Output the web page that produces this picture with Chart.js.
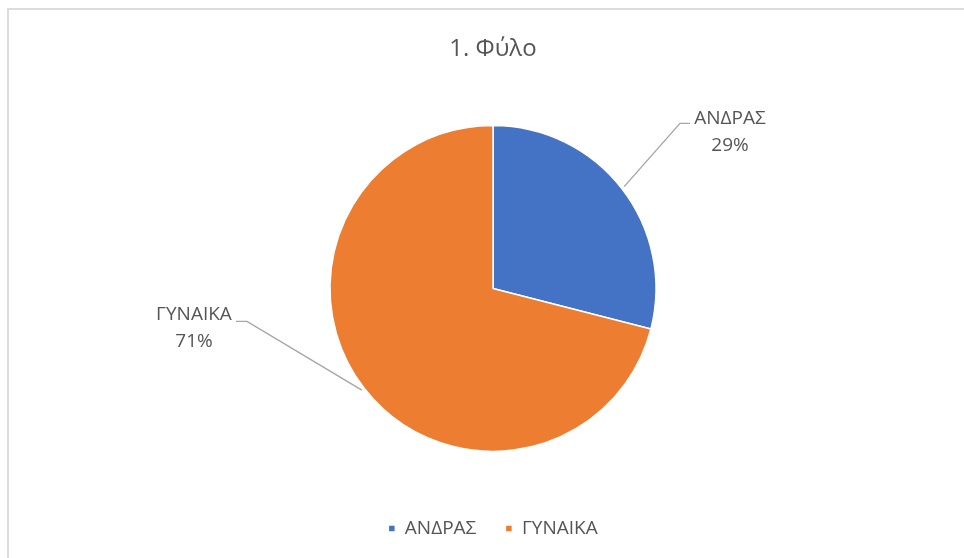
<!DOCTYPE html>
<html lang="el">
<head>
<meta charset="utf-8">
<title>1. Φύλο</title>
<script src="https://cdn.jsdelivr.net/npm/chart.js@4/dist/chart.umd.min.js"></script>
<style>
    html, body {
        margin: 0;
        padding: 0;
        background: #ffffff;
        overflow: hidden;
    }
    #frame {
        position: absolute;
        left: 7px;
        top: 8px;
        width: 1000px;
        height: 600px;
        border: 2px solid #dcdcdc;
        box-sizing: border-box;
    }
    #wrap {
        position: absolute;
        left: 0;
        top: 0;
        width: 964px;
        height: 558px;
    }
</style>
</head>
<body>
<div id="frame"></div>
<div id="wrap"><canvas id="pieChart"></canvas></div>
<script>
"use strict"

// Data för diagrammet
const chartTitle = "1. Φύλο";
const categories = ["ΑΝΔΡΑΣ", "ΓΥΝΑΙΚΑ"];
const values = [29, 71];
const colors = ["#4472c4", "#ed7d31"];

const textColor = "#555555";
const fontFamily = "'Open Sans', 'Noto Sans', sans-serif";

// Plugin som ritar etiketter med ledarlinjer utanför tårtbitarna
const leaderLabels = {
    id: "leaderLabels",
    afterDatasetsDraw(chart, args, opts) {
        const ctx = chart.ctx;
        const meta = chart.getDatasetMeta(0);
        const data = chart.data.datasets[0].data;
        const total = data.reduce((a, b) => a + b, 0);

        meta.data.forEach((arc, i) => {
            const spot = opts.spots[i];
            const mid = (arc.startAngle + arc.endAngle) / 2;
            const r = arc.outerRadius + 3;
            const x0 = arc.x + Math.cos(mid) * r;
            const y0 = arc.y + Math.sin(mid) * r;
            const ex = arc.x + spot.elbow[0];
            const ey = arc.y + spot.elbow[1];
            const hx = ex + spot.tail;

            ctx.save();
            ctx.strokeStyle = "#a6a6a6";
            ctx.lineWidth = 1.4;
            ctx.beginPath();
            ctx.moveTo(x0, y0);
            ctx.lineTo(ex, ey);
            ctx.lineTo(hx, ey);
            ctx.stroke();

            const pct = Math.round(data[i] / total * 100) + "%";
            ctx.fillStyle = textColor;
            ctx.font = "19px " + fontFamily;
            ctx.textAlign = "center";
            ctx.textBaseline = "middle";
            const tx = arc.x + spot.text[0];
            const ty = arc.y + spot.text[1];
            ctx.fillText(chart.data.labels[i], tx, ty);
            ctx.fillText(pct, tx, ty + 27);
            ctx.restore();
        });
    }
};

new Chart(
    document.getElementById("pieChart"),
    {
        type: "pie",
        data: {
            labels: categories,
            datasets: [
                {
                    data: values,
                    backgroundColor: colors,
                    borderColor: "#ffffff",
                    borderWidth: 1.5,
                    radius: 163
                }
            ]
        },
        options: {
            responsive: true,
            maintainAspectRatio: false,
            animation: false,
            events: [],
            layout: {
                padding: { left: 22, right: 0, top: 0, bottom: 10 }
            },
            plugins: {
                title: {
                    display: true,
                    text: chartTitle,
                    color: textColor,
                    font: { family: fontFamily, size: 24, weight: "normal" },
                    padding: { top: 35, bottom: 23 }
                },
                legend: {
                    position: "bottom",
                    labels: {
                        color: textColor,
                        font: { family: fontFamily, size: 19 },
                        boxWidth: 7,
                        boxHeight: 7,
                        padding: 29
                    }
                },
                tooltip: { enabled: false },
                leaderLabels: {
                    spots: [
                        { elbow: [187, -165], tail: 10, text: [237, -170] },
                        { elbow: [-246, 33], tail: -11, text: [-299, 26] }
                    ]
                }
            }
        },
        plugins: [leaderLabels]
    }
);
</script>
</body>
</html>
